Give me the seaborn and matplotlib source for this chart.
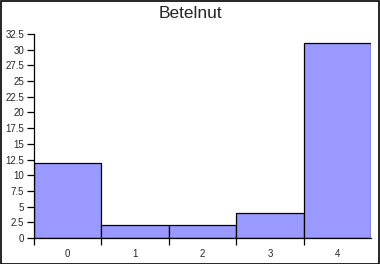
import matplotlib
matplotlib.use("Agg")
import matplotlib.pyplot as plt
import seaborn as sns
import pandas as pd
from matplotlib.ticker import FixedLocator, MultipleLocator
from matplotlib.patches import Rectangle

categories = ["0", "1", "2", "3", "4"]
values = [12, 2, 2, 4, 31]
title = "Betelnut"

sns.set_style("white")
plt.rcParams['font.family'] = ['Liberation Sans', 'DejaVu Sans']

df = pd.DataFrame({"cat": categories, "val": values})

fig = plt.figure(figsize=(3.8, 2.64), dpi=100)
ax = fig.add_axes([34/380, 1-238/264, (371-34)/380, (238-34)/264])
sns.barplot(data=df, x="cat", y="val", color="#9999FF", saturation=1,
            width=1.0, edgecolor="black", linewidth=0.9, ax=ax)
ax.set_xlim(-0.5, 4.5)
ax.set_ylim(0, 32.5)
ax.yaxis.set_major_locator(MultipleLocator(2.5))
ax.set_yticklabels([f"{v:g}" for v in ax.get_yticks()])
ax.set_xlabel("")
ax.set_ylabel("")
for s in ["top", "right"]:
    ax.spines[s].set_visible(False)
for s in ["left", "bottom"]:
    ax.spines[s].set_color("black")
    ax.spines[s].set_linewidth(0.9)
ax.tick_params(axis="y", which="major", length=5, width=0.9, color="black",
               labelsize=7, pad=2, left=True)
ax.tick_params(axis="x", which="major", length=0, labelsize=7, pad=8)
ax.xaxis.set_minor_locator(FixedLocator([-0.5, 0.5, 1.5, 2.5, 3.5]))
ax.tick_params(axis="x", which="minor", length=5, width=0.9, color="black", bottom=True)
fig.text(0.5, 1 - 14/264, title, fontsize=12.5, ha="center", va="center")
fig.patches.append(Rectangle((0.5/380, 0.5/264), 378.5/380, 262.5/264, transform=fig.transFigure,
                             fill=False, edgecolor="black", linewidth=1.2))
fig.savefig("out.png", dpi=100)
